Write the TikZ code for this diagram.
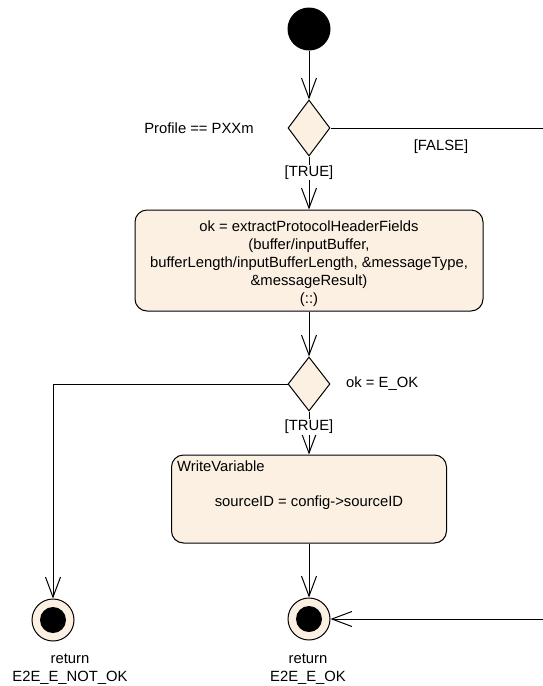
\documentclass[tikz,border=0pt]{standalone}
\usepackage{fontspec}
\setmainfont{Liberation Sans}
\usetikzlibrary{arrows.meta,shapes.geometric}
\definecolor{act}{RGB}{251,240,226}
\begin{document}
\begin{tikzpicture}[x=1pt,y=-1pt,
  every node/.style={font=\fontsize{14.8}{18}\selectfont},
  flow/.style={draw, line width=1pt, -{Straight Barb[length=20pt,width=15pt,line width=1pt]}},
  dec/.style={diamond, draw, fill=act, line width=1pt, minimum width=42pt, minimum height=56pt, inner sep=0pt},
  actbox/.style={draw, fill=act, rounded corners=12pt, line width=1pt, inner sep=0pt},
  endnode/.style={circle, draw, fill=act, line width=1pt, minimum size=42pt, inner sep=0pt},
  dot/.style={circle, fill=black, inner sep=0pt},
  lbl/.style={inner sep=1pt}
]
\useasboundingbox (0,0) rectangle (543,686);

\node[dot, minimum size=43pt] (start) at (309,29) {};
\node[dec] (d1) at (309,128) {};
\node[actbox, minimum width=348pt, minimum height=101pt] (b1) at (309,260.5) {};
\node[dec, minimum height=54pt] (d2) at (309,384) {};
\node[actbox, minimum width=275pt, minimum height=88pt] (b2) at (309,499) {};
\node[endnode] (eL) at (53,620) {};
\node[dot, minimum size=26pt] (eLdot) at (eL) {};
\node[endnode] (eR) at (309,619) {};
\node[dot, minimum size=26pt] (eRdot) at (eR) {};

\coordinate (fr1) at (548,128);
\coordinate (fr2) at (548,619);
\coordinate (lc) at (53,384);

\node[lbl] (t1) at (199,128) {Profile == PXXm};
\node[lbl, align=center] (t2) at (309,264) {ok = extractProtocolHeaderFields\\(buffer/inputBuffer,\\bufferLength/inputBufferLength, \&messageType,\\\&messageResult)\\(::)};
\node[lbl, anchor=west] (t3) at (345,384) {ok = E\_OK};
\node[lbl, anchor=west] (t4) at (176,466) {WriteVariable};
\node[lbl] (t5) at (309,503) {sourceID = config->sourceID};
\node[lbl, align=center] (t6) at (70,669) {return\\E2E\_E\_NOT\_OK};
\node[lbl, align=center] (t7) at (308,669) {return\\E2E\_E\_OK};

\draw[flow] (start) -- (d1);
\draw[flow] (d1) -- node[lbl, fill=white, pos=0.3] {[TRUE]} (b1);
\draw[flow] (d1.east) -- (fr1) -- (fr2) -- (eR.east);
\node[lbl] (t8) at (441,147) {[FALSE]};
\draw[flow] (b1) -- (d2);
\draw[flow] (d2) -- node[lbl, fill=white, pos=0.36] {[TRUE]} (b2);
\draw[flow] (d2.west) -- (lc) -- (eL);
\draw[flow] (b2) -- (eR);
\end{tikzpicture}
\end{document}
